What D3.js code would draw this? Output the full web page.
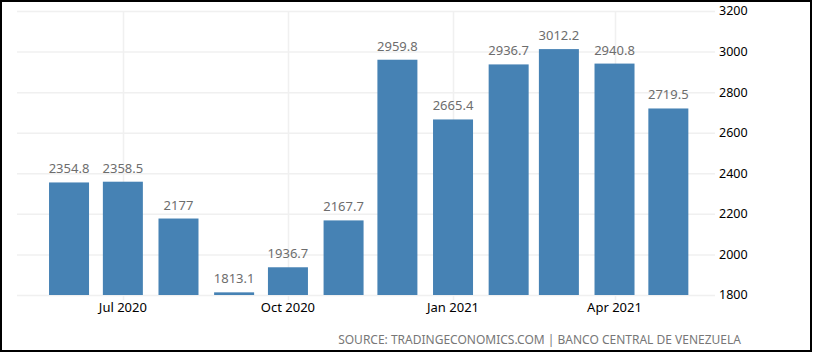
<!DOCTYPE html>
<html lang="en">
  <head>
    <meta charset="utf-8" />
    <title>bar chart</title>
    <script type="text/javascript" src="https://d3js.org/d3.v7.min.js"></script>
    <style>
      body { margin: 0; background: #fff; }
      text { font-family: "Noto Sans", sans-serif; }
    </style>
  </head>
  <body>
    <div id="graph"></div>

    <script type="text/javascript">
      /***************
       * data
       ***************/

      const months = [
        "2020-06", "2020-07", "2020-08", "2020-09", "2020-10", "2020-11",
        "2020-12", "2021-01", "2021-02", "2021-03", "2021-04", "2021-05"
      ];
      const values = [2354.8, 2358.5, 2177, 1813.1, 1936.7, 2167.7,
                      2959.8, 2665.4, 2936.7, 3012.2, 2940.8, 2719.5];
      const xTicks = ["2020-07", "2020-10", "2021-01", "2021-04"];
      const yTicks = [1800, 2000, 2200, 2400, 2600, 2800, 3000, 3200];
      const source = "SOURCE: TRADINGECONOMICS.COM | BANCO CENTRAL DE VENEZUELA";

      const parse = d3.utcParse("%Y-%m");
      const fmt = d3.utcFormat("%b %Y");

      /***************
       * svg
       ***************/

      const width = 813;
      const height = 353;

      const svg = d3
        .select("div#graph")
        .append("svg")
        .attr("width", width)
        .attr("height", height);

      // scales
      const x = d3
        .scaleUtc()
        .domain([new Date(Date.UTC(2020, 4, 3)), new Date(Date.UTC(2021, 4, 27))])
        .range([17, 715]);

      const y = d3.scaleLinear().domain([1800, 3200]).range([295, 11]);

      const barWidth = 40;

      // horizontal grid
      svg
        .append("g")
        .selectAll("line")
        .data(yTicks)
        .enter()
        .append("line")
        .attr("x1", x.range()[0])
        .attr("x2", x.range()[1])
        .attr("y1", (d) => y(d) + 0.5)
        .attr("y2", (d) => y(d) + 0.5)
        .attr("stroke", "#f0f0f0")
        .attr("stroke-width", 1.5);

      // vertical grid
      svg
        .append("g")
        .selectAll("line")
        .data(xTicks.map(parse))
        .enter()
        .append("line")
        .attr("x1", (d) => Math.round(x(d)) + 0.5)
        .attr("x2", (d) => Math.round(x(d)) + 0.5)
        .attr("y1", y(3200))
        .attr("y2", y(1800) + 5)
        .attr("stroke", "#f0f0f0")
        .attr("stroke-width", 1.5);

      // bars
      svg
        .append("g")
        .selectAll("rect")
        .data(values)
        .enter()
        .append("rect")
        .attr("x", (d, i) => x(parse(months[i])) - barWidth / 2)
        .attr("y", (d) => y(d))
        .attr("width", barWidth)
        .attr("height", (d) => y(1800) - y(d))
        .attr("fill", "#4682b4");

      // value labels
      svg
        .append("g")
        .selectAll("text")
        .data(values)
        .enter()
        .append("text")
        .attr("x", (d, i) => x(parse(months[i])))
        .attr("y", (d) => y(d) - 9)
        .attr("text-anchor", "middle")
        .attr("font-size", 13)
        .attr("fill", "#6d6d6d")
        .text((d) => d);

      // x labels
      svg
        .append("g")
        .selectAll("text")
        .data(xTicks.map(parse))
        .enter()
        .append("text")
        .attr("x", (d) => x(d))
        .attr("y", 312)
        .attr("text-anchor", "middle")
        .attr("font-size", 13)
        .attr("fill", "#000")
        .text((d) => fmt(d));

      // y labels
      svg
        .append("g")
        .selectAll("text")
        .data(yTicks)
        .enter()
        .append("text")
        .attr("x", 719)
        .attr("y", (d) => y(d))
        .attr("dy", "0.35em")
        .attr("font-size", 12.5)
        .attr("fill", "#000")
        .text((d) => d);

      // source
      svg
        .append("text")
        .attr("x", 741)
        .attr("y", 344)
        .attr("text-anchor", "end")
        .attr("font-size", 12)
        .attr("fill", "#777")
        .text(source);

      // frame
      svg
        .append("rect")
        .attr("x", 1)
        .attr("y", 1)
        .attr("width", width - 3)
        .attr("height", height - 3)
        .attr("fill", "none")
        .attr("stroke", "#000")
        .attr("stroke-width", 2);
    </script>
  </body>
</html>
